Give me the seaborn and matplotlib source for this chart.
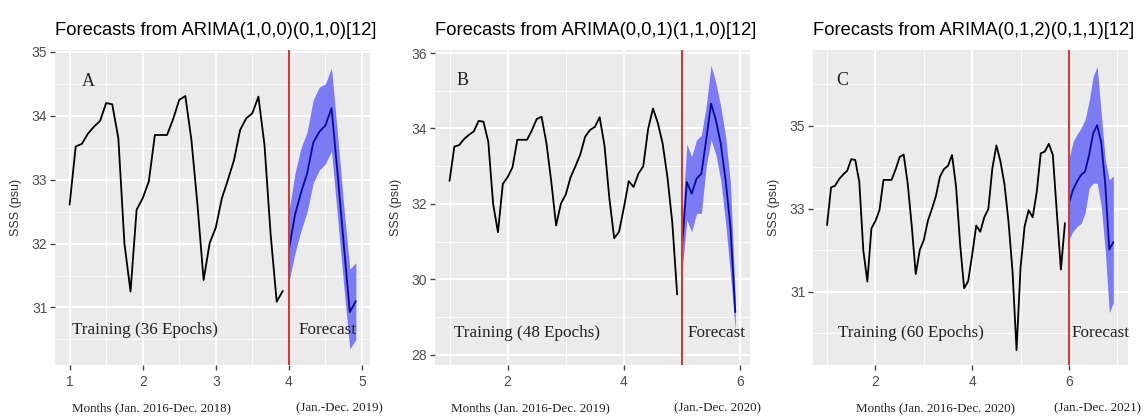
# SSS forecasts from three seasonal ARIMA models, panels A-C

import numpy as np
import pandas as pd
import seaborn as sns
from matplotlib import pyplot as plt
from matplotlib.ticker import MultipleLocator

sns.set_theme(style="darkgrid", rc={"axes.facecolor": "#EBEBEB",
                                    "grid.color": "white"})
plt.rcParams['font.family'] = ['Liberation Sans', 'DejaVu Sans']

# ------------------------------------------------------------------
# data (monthly, time index 1 = Jan. 2016)
# ------------------------------------------------------------------
sss_2016_2018 = [32.61, 33.52, 33.56, 33.72, 33.83, 33.92, 34.20, 34.18, 33.65, 32.00, 31.25, 32.53,
                 32.71, 32.97, 33.70, 33.70, 33.70, 33.95, 34.25, 34.31, 33.62, 32.60, 31.43, 32.01,
                 32.25, 32.71, 33.00, 33.31, 33.78, 33.96, 34.04, 34.30, 33.54, 32.15, 31.09, 31.26]
sss_2019 = [31.90, 32.60, 32.45, 32.80, 33.00, 33.98, 34.53, 34.15, 33.60, 32.70, 31.50, 29.60]
sss_2020 = [31.60, 32.58, 32.97, 32.80, 33.40, 34.34, 34.38, 34.57, 34.30, 32.90, 31.54, 32.66]

fc_a_mean = [31.90, 32.45, 32.80, 33.10, 33.58, 33.75, 33.85, 34.12, 33.10, 32.00, 30.93, 31.10]
fc_a_hi = [32.50, 33.10, 33.50, 33.75, 34.25, 34.45, 34.50, 34.75, 33.70, 32.60, 31.60, 31.70]
fc_a_lo = [31.40, 31.85, 32.20, 32.50, 32.95, 33.15, 33.25, 33.45, 32.40, 31.35, 30.35, 30.50]

fc_b_mean = [30.86, 32.58, 32.27, 32.67, 32.80, 33.70, 34.66, 34.22, 33.60, 32.63, 31.40, 29.13]
fc_b_hi = [31.55, 33.58, 33.25, 33.70, 33.82, 34.60, 35.68, 35.20, 34.58, 33.80, 32.55, 29.55]
fc_b_lo = [30.20, 31.57, 31.26, 31.75, 31.75, 33.00, 33.70, 33.30, 32.63, 31.50, 30.15, 28.65]

fc_c_mean = [33.14, 33.46, 33.66, 33.82, 33.90, 34.30, 34.82, 35.02, 34.60, 33.60, 32.02, 32.20]
fc_c_hi = [34.20, 34.62, 34.80, 34.95, 35.15, 35.60, 36.20, 36.43, 35.30, 34.20, 33.70, 33.80]
fc_c_lo = [32.26, 32.46, 32.58, 32.65, 32.90, 33.50, 33.62, 33.62, 33.06, 32.00, 30.50, 30.74]

titles = ["Forecasts from ARIMA(1,0,0)(0,1,0)[12]",
          "Forecasts from ARIMA(0,0,1)(1,1,0)[12]",
          "Forecasts from ARIMA(0,1,2)(0,1,1)[12]"]
letters = ["A", "B", "C"]
train_labels = ["Training (36 Epochs)", "Training (48 Epochs)", "Training (60 Epochs)"]
months_labels = ["Months (Jan. 2016-Dec. 2018)", "Months (Jan. 2016-Dec. 2019)",
                 "Months (Jan. 2016-Dec. 2020)"]
fc_labels = ["(Jan.-Dec. 2019)", "(Jan.-Dec. 2020)", "(Jan.-Dec. 2021)"]

train_series = [sss_2016_2018,
                sss_2016_2018 + sss_2019,
                sss_2016_2018 + sss_2019 + sss_2020]
forecasts = [(fc_a_mean, fc_a_lo, fc_a_hi),
             (fc_b_mean, fc_b_lo, fc_b_hi),
             (fc_c_mean, fc_c_lo, fc_c_hi)]

# ------------------------------------------------------------------
# layout / styling per panel
# ------------------------------------------------------------------
panel_left_px = [55, 435, 813]
xlims = [(0.80, 5.11), (0.75, 6.17), (0.71, 7.22)]
ylims = [(30.10, 35.03), (27.73, 36.08), (29.24, 36.83)]
x_major = [1, 2, 2]
y_major = [1, 2, 2]
y_start = [31, 28, 31]
letter_pos = [(1.25, 34.53), (1.22, 35.28), (1.32, 36.10)]
train_pos = [(2.03, 30.64), (2.33, 28.58), (2.74, 30.01)]
fc_pos = [(4.53, 30.64), (5.60, 28.58), (6.66, 30.01)]
months_x_px = [152, 530, 935]
fc_label_x_px = [339, 717, 1097]

W, H = 1147, 419
fig = plt.figure(figsize=(W / 100, H / 100), dpi=100)
serif = ['Liberation Serif', 'DejaVu Serif']

for i in range(3):
    ax = fig.add_axes([panel_left_px[i] / W, (H - 365) / H, 315 / W, 315 / H])
    ax.set_facecolor("#EBEBEB")

    train = train_series[i]
    t_train = 1 + np.arange(len(train)) / 12
    mean, lo, hi = forecasts[i]
    t_fc = 1 + (len(train) + np.arange(len(mean))) / 12
    df_train = pd.DataFrame({"t": t_train, "sss": train})
    df_fc = pd.DataFrame({"t": t_fc, "mean": mean, "lo": lo, "hi": hi})

    ax.fill_between(df_fc["t"], df_fc["lo"], df_fc["hi"], color="#7b7bf3", lw=0, zorder=2)
    sns.lineplot(data=df_train, x="t", y="sss", ax=ax, color="black", lw=1.3, zorder=3)
    sns.lineplot(data=df_fc, x="t", y="mean", ax=ax, color="#0a0a9a", lw=1.3, zorder=4)
    ax.axvline(df_fc["t"].iloc[0], color="#c0413f", lw=1.5, zorder=5)

    ax.set_xlim(*xlims[i])
    ax.set_ylim(*ylims[i])
    ax.xaxis.set_major_locator(MultipleLocator(x_major[i]))
    ax.xaxis.set_minor_locator(MultipleLocator(x_major[i] / 2))
    ax.yaxis.set_major_locator(MultipleLocator(y_major[i], offset=y_start[i] % y_major[i]))
    ax.yaxis.set_minor_locator(MultipleLocator(y_major[i] / 2, offset=(y_start[i] % y_major[i]) + y_major[i] / 2))
    ax.grid(which="major", color="white", lw=1.4)
    ax.grid(which="minor", color="white", lw=0.6)
    ax.set_axisbelow(True)
    for s in ax.spines.values():
        s.set_visible(False)
    ax.tick_params(which="major", length=3.5, width=1.0, color="#444444",
                   labelsize=10, labelcolor="#4D4D4D", pad=2)
    ax.tick_params(axis="x", which="major", pad=4)
    ax.tick_params(which="minor", length=0)
    ax.tick_params(bottom=True, left=True)

    ax.set_xlabel("")
    ax.set_ylabel("SSS (psu)", fontsize=9, color="#333333")
    ax.yaxis.set_label_coords(-0.105, 0.5)
    ax.set_title(titles[i], loc="left", fontsize=13.2, color="black", pad=11)

    ax.text(*letter_pos[i], letters[i], family=serif, fontsize=13, color="#222222",
            ha="center", va="center", zorder=6)
    ax.text(*train_pos[i], train_labels[i], family=serif, fontsize=12.3, color="#222222",
            ha="center", va="center", zorder=6)
    ax.text(*fc_pos[i], "Forecast", family=serif, fontsize=12.3, color="#222222",
            ha="center", va="center", zorder=6)

    fig.text(months_x_px[i] / W, 1 - 408 / H, months_labels[i], family=serif,
             fontsize=9.4, color="#222222", ha="center", va="center")
    fig.text(fc_label_x_px[i] / W, 1 - 408 / H, fc_labels[i], family=serif,
             fontsize=9.4, color="#222222", ha="center", va="center")

fig.savefig("out.png", dpi=100, facecolor="white")
